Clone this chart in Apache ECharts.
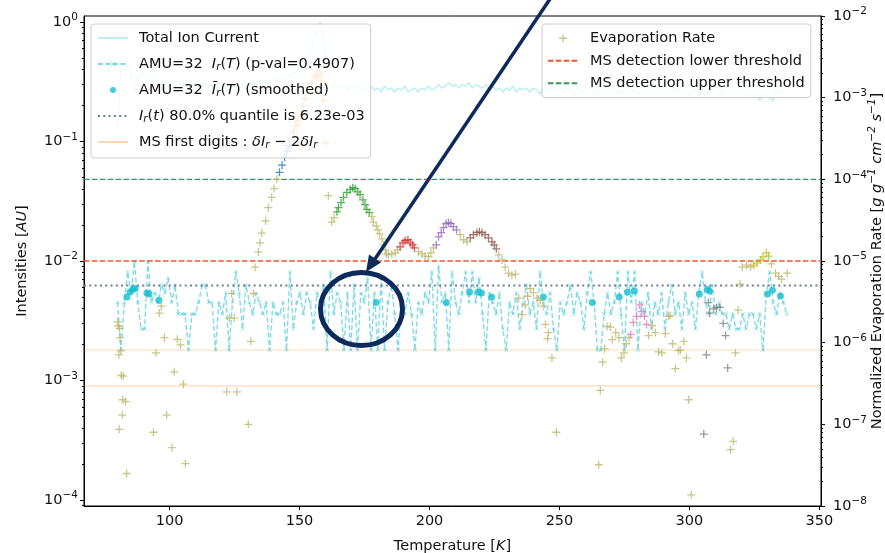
<!DOCTYPE html>
<html>
<head>
<meta charset="utf-8">
<script src="https://cdn.jsdelivr.net/npm/echarts@6/dist/echarts.min.js"></script>
<style>
  html, body { margin: 0; padding: 0; background: #ffffff; }
  #chart { width: 885px; height: 553px; }
</style>
</head>
<body>
<div id="chart"></div>
<script>
// Temperature grid of the mass-spectrometer scan [K]
const temperature = [
  80.0, 81.3, 82.6, 83.9, 85.2, 86.5, 87.8, 89.1, 90.4, 91.7,
  93.0, 94.3, 95.6, 96.9, 98.2, 99.5, 100.8, 102.1, 103.4, 104.7,
  106.0, 107.3, 108.6, 109.9, 111.2, 112.5, 113.8, 115.1, 116.4, 117.7,
  119.0, 120.3, 121.6, 122.9, 124.2, 125.5, 126.8, 128.1, 129.4, 130.7,
  132.0, 133.3, 134.6, 135.9, 137.2, 138.5, 139.8, 141.1, 142.4, 143.7,
  145.0, 146.3, 147.6, 148.9, 150.2, 151.5, 152.8, 154.1, 155.4, 156.7,
  158.0, 159.3, 160.6, 161.9, 163.2, 164.5, 165.8, 167.1, 168.4, 169.7,
  171.0, 172.3, 173.6, 174.9, 176.2, 177.5, 178.8, 180.1, 181.4, 182.7,
  184.0, 185.3, 186.6, 187.9, 189.2, 190.5, 191.8, 193.1, 194.4, 195.7,
  197.0, 198.3, 199.6, 200.9, 202.2, 203.5, 204.8, 206.1, 207.4, 208.7,
  210.0, 211.3, 212.6, 213.9, 215.2, 216.5, 217.8, 219.1, 220.4, 221.7,
  223.0, 224.3, 225.6, 226.9, 228.2, 229.5, 230.8, 232.1, 233.4, 234.7,
  236.0, 237.3, 238.6, 239.9, 241.2, 242.5, 243.8, 245.1, 246.4, 247.7,
  249.0, 250.3, 251.6, 252.9, 254.2, 255.5, 256.8, 258.1, 259.4, 260.7,
  262.0, 263.3, 264.6, 265.9, 267.2, 268.5, 269.8, 271.1, 272.4, 273.7,
  275.0, 276.3, 277.6, 278.9, 280.2, 281.5, 282.8, 284.1, 285.4, 286.7,
  288.0, 289.3, 290.6, 291.9, 293.2, 294.5, 295.8, 297.1, 298.4, 299.7,
  301.0, 302.3, 303.6, 304.9, 306.2, 307.5, 308.8, 310.1, 311.4, 312.7,
  314.0, 315.3, 316.6, 317.9, 319.2, 320.5, 321.8, 323.1, 324.4, 325.7,
  327.0, 328.3, 329.6, 330.9, 332.2, 333.5, 334.8, 336.1, 337.4
];

// Total ion current (normalised)
const totalIonCurrent = [
  0.13, 0.42, 0.40, 0.44, 0.37, 0.25, 0.33, 0.38, 0.34, 0.36,
  0.31, 0.33, 0.30, 0.32, 0.29, 0.31, 0.30, 0.28, 0.31, 0.29,
  0.30, 0.28, 0.30, 0.29, 0.31, 0.28, 0.30, 0.29, 0.30, 0.28,
  0.29, 0.31, 0.28, 0.30, 0.29, 0.30, 0.28, 0.30, 0.29, 0.31,
  0.30, 0.29, 0.31, 0.30, 0.32, 0.31, 0.33, 0.32, 0.34, 0.33,
  0.35, 0.36, 0.38, 0.37, 0.41, 0.44, 0.50, 0.58, 0.68, 0.86,
  1.00, 0.72, 0.45, 0.33, 0.29, 0.30, 0.28, 0.29, 0.27, 0.29,
  0.28, 0.30, 0.27, 0.28, 0.26, 0.29, 0.27, 0.28, 0.26, 0.29,
  0.27, 0.28, 0.26, 0.28, 0.27, 0.29, 0.26, 0.27, 0.28, 0.26,
  0.28, 0.27, 0.29, 0.27, 0.28, 0.30, 0.28, 0.29, 0.31, 0.29,
  0.30, 0.28, 0.30, 0.29, 0.31, 0.28, 0.30, 0.29, 0.28, 0.30,
  0.27, 0.29, 0.27, 0.28, 0.26, 0.28, 0.27, 0.29, 0.26, 0.28,
  0.27, 0.28, 0.26, 0.28, 0.27, 0.25, 0.28, 0.27, 0.28, 0.26,
  0.27, 0.28, 0.26, 0.28, 0.27, 0.25, 0.28, 0.27, 0.26, 0.28,
  0.27, 0.25, 0.27, 0.28, 0.26, 0.27, 0.28, 0.26, 0.27, 0.25,
  0.27, 0.28, 0.26, 0.27, 0.25, 0.27, 0.26, 0.28, 0.27, 0.25,
  0.27, 0.28, 0.26, 0.27, 0.25, 0.28, 0.26, 0.27, 0.26, 0.24,
  0.27, 0.26, 0.28, 0.26, 0.27, 0.25, 0.27, 0.26, 0.24, 0.27,
  0.26, 0.27, 0.25, 0.26, 0.27, 0.25, 0.26, 0.24, 0.26, 0.25,
  0.22, 0.26, 0.25, 0.23, 0.22, 0.26, 0.25, 0.27, 0.26
];

// AMU=32 relative intensity I_r(T)
const amu32 = [
  0.0045, 0.0018, 0.0045, 0.0081, 0.0054, 0.0099, 0.0045, 0.0027, 0.0027, 0.0099,
  0.0045, 0.0054, 0.0045, 0.0063, 0.0054, 0.0072, 0.0045, 0.0063, 0.0036, 0.0036,
  0.0036, 0.0018, 0.0036, 0.0036, 0.0045, 0.0063, 0.0063, 0.0045, 0.0045, 0.0018,
  0.0045, 0.0036, 0.0054, 0.0018, 0.0045, 0.0081, 0.0054, 0.0027, 0.0063, 0.0045,
  0.0036, 0.0054, 0.0045, 0.0036, 0.0045, 0.0018, 0.0045, 0.0036, 0.0036, 0.0045,
  0.0018, 0.0081, 0.0027, 0.0045, 0.0054, 0.0036, 0.0054, 0.0045, 0.0027, 0.0054,
  0.0045, 0.0063, 0.0018, 0.0081, 0.0036, 0.0054, 0.0045, 0.0018, 0.0054, 0.0018,
  0.0063, 0.0018, 0.0054, 0.0045, 0.0072, 0.0018, 0.0054, 0.0018, 0.0072, 0.0018,
  0.0045, 0.0063, 0.0036, 0.0018, 0.0045, 0.0036, 0.0054, 0.0036, 0.0018, 0.0045,
  0.0036, 0.0054, 0.0045, 0.0081, 0.0018, 0.0090, 0.0045, 0.0054, 0.0018, 0.0081,
  0.0045, 0.0036, 0.0054, 0.0081, 0.0045, 0.0081, 0.0045, 0.0072, 0.0036, 0.0018,
  0.0054, 0.0045, 0.0036, 0.0054, 0.0027, 0.0018, 0.0045, 0.0036, 0.0054, 0.0027,
  0.0045, 0.0063, 0.0036, 0.0045, 0.0027, 0.0081, 0.0045, 0.0036, 0.0054, 0.0027,
  0.0018, 0.0045, 0.0036, 0.0045, 0.0063, 0.0036, 0.0054, 0.0045, 0.0027, 0.0054,
  0.0081, 0.0045, 0.0018, 0.0018, 0.0036, 0.0054, 0.0036, 0.0045, 0.0081, 0.0036,
  0.0018, 0.0081, 0.0045, 0.0081, 0.0018, 0.0045, 0.0036, 0.0054, 0.0027, 0.0045,
  0.0036, 0.0054, 0.0027, 0.0045, 0.0063, 0.0036, 0.0045, 0.0027, 0.0054, 0.0036,
  0.0045, 0.0027, 0.0054, 0.0081, 0.0045, 0.0036, 0.0063, 0.0036, 0.0045, 0.0036,
  0.0036, 0.0027, 0.0036, 0.0027, 0.0027, 0.0036, 0.0027, 0.0036, 0.0036, 0.0027,
  0.0036, 0.0018, 0.0054, 0.0081, 0.0045, 0.0036, 0.0054, 0.0045, 0.0036
];

// Smoothed AMU=32 intensity
const smoothTemp = [83.6, 84.8, 85.9, 86.8, 91.3, 92.1, 95.9, 179.5, 206.5, 215.4, 218.8, 220.0,
  223.9, 243.8, 262.6, 273.0, 276.1, 278.8, 303.8, 306.9, 307.7, 330.0, 331.9, 335.0];
const smoothIr = [0.0050, 0.0055, 0.0058, 0.0059, 0.0054, 0.0053, 0.0047, 0.0045, 0.0045, 0.0055, 0.0055, 0.0054,
  0.0050, 0.0050, 0.0045, 0.0050, 0.0055, 0.0056, 0.0053, 0.0058, 0.0056, 0.0053, 0.0057, 0.0051];

// Normalised evaporation rate [g g^-1 cm^-2 s^-1]
const evapTemp = [
  80.0, 80.3, 80.5, 80.6, 80.8, 81.0, 81.2, 81.4, 81.8, 82.0, 82.2, 83.1, 83.5,
  93.8, 94.8, 96.1, 96.8, 98.0, 98.9, 101.0, 101.8, 103.0, 104.2, 105.3, 106.1,
  122.0, 123.0, 123.9, 124.9, 125.9, 130.3, 131.3, 132.3,
  132.9, 134.2, 134.8, 135.5, 137.0, 138.0, 139.3, 140.2, 141.3,
  142.3, 143.3, 144.3, 145.1, 146.0,
  146.8, 147.7, 148.6, 149.5, 150.4, 151.3, 152.2, 153.3, 154.7, 156.0, 156.7, 157.9, 158.6, 159.2, 160.2,
  161.1, 162.4, 163.3,
  164.4, 165.0, 166.0, 166.9, 168.2, 169.5, 170.5, 171.4, 172.4, 173.3, 174.4, 175.2, 175.9, 176.8,
  177.8, 178.4, 179.5, 180.1, 180.8, 181.7, 182.3, 183.0, 183.4, 184.2, 185.5, 186.8, 187.7,
  188.7, 189.8, 190.6, 191.7, 192.6, 193.5, 194.2,
  195.8, 197.1, 198.3, 199.6, 200.5, 201.5,
  202.6, 203.5, 204.5, 205.4, 206.4, 207.3, 208.2, 209.2, 210.4,
  211.8, 213.1, 214.4,
  215.7, 216.9, 218.2, 219.2, 220.2, 221.4, 222.7, 224.0, 224.9, 225.7,
  226.6, 227.9, 229.1, 230.4, 231.7, 233.0, 234.3, 235.6, 236.8, 237.7, 238.8, 240.0, 241.3, 242.6, 243.7, 244.6, 245.4, 245.8, 247.1, 248.8,
  265.1, 265.7, 266.6, 267.4, 268.3, 269.6, 270.3, 271.6, 272.9, 273.8, 274.8, 275.7, 276.7,
  277.4, 278.4, 279.7, 280.7, 281.7, 282.7, 283.5,
  284.3, 285.6, 286.9, 288.1, 289.4, 290.7, 292.0, 292.6, 293.5, 294.6, 295.8, 296.5, 297.8, 298.8, 299.7, 300.7,
  305.5, 306.5, 307.3, 307.8, 309.3, 310.4, 311.7, 313.0, 313.9, 314.7,
  315.8, 316.8, 317.7, 318.7, 319.5, 320.3, 322.0, 323.5,
  324.7, 326.0, 327.4, 328.3, 329.6, 330.5,
  331.5, 333.1, 334.3, 335.4, 337.6
];
const evapRate = [
  1.8e-6, 1.6e-6, 7.1e-7, 8.7e-8, 1.5e-6, 1.15e-6, 8.0e-7, 4.0e-7, 1.3e-7, 2.0e-7, 3.9e-7, 1.9e-7, 2.5e-8,
  8.0e-8, 7.5e-7, 2.3e-6, 2.8e-6, 1.15e-6, 1.3e-7, 5.2e-8, 4.4e-7, 1.1e-6, 9.4e-7, 3.1e-7, 3.3e-8,
  2.5e-7, 2.0e-6, 4.0e-6, 2.0e-6, 2.5e-7, 1.0e-7, 1.04e-6, 4.0e-6,
  8.4e-6, 1.29e-5, 1.67e-5, 2.2e-5, 3.1e-5, 4.5e-5, 6.0e-5, 7.7e-5, 1.0e-4,
  1.22e-4, 1.49e-4, 1.87e-4, 2.22e-4, 2.6e-4,
  2.95e-4, 3.8e-4, 4.5e-4, 5.2e-4, 6.0e-4, 7.9e-4, 9.7e-4, 1.33e-3, 1.49e-3, 1.79e-3, 1.87e-3, 1.98e-3, 1.62e-3, 9.2e-4, 2.8e-4,
  6.3e-5, 3.0e-5, 3.4e-5,
  4.0e-5, 4.5e-5, 5.2e-5, 6.0e-5, 6.9e-5, 7.5e-5, 7.9e-5, 7.7e-5, 7.0e-5, 6.5e-5, 5.6e-5, 4.9e-5, 4.3e-5, 3.9e-5,
  3.5e-5, 3.0e-5, 2.7e-5, 2.4e-5, 2.15e-5, 1.87e-5, 1.58e-5, 1.37e-5, 1.22e-5, 1.19e-5, 1.22e-5, 1.26e-5, 1.37e-5,
  1.49e-5, 1.67e-5, 1.77e-5, 1.82e-5, 1.67e-5, 1.58e-5, 1.45e-5,
  1.29e-5, 1.22e-5, 1.15e-5, 1.13e-5, 1.26e-5, 1.45e-5,
  1.58e-5, 1.98e-5, 2.22e-5, 2.56e-5, 2.87e-5, 2.95e-5, 2.87e-5, 2.63e-5, 2.41e-5,
  2.1e-5, 1.82e-5, 1.72e-5,
  1.92e-5, 2.1e-5, 2.22e-5, 2.28e-5, 2.22e-5, 2.1e-5, 1.92e-5, 1.72e-5, 1.58e-5, 1.41e-5,
  1.19e-5, 1.03e-5, 8.4e-6, 7.1e-6, 6.7e-6, 6.9e-6, 3.5e-6, 2.2e-6, 2.9e-6, 3.7e-6, 4.6e-6, 4.1e-6, 3.5e-6, 3.3e-6, 2.8e-6, 1.67e-6, 1.12e-6, 1.33e-6, 6.5e-7, 8.0e-8,
  3.2e-8, 2.6e-7, 5.8e-7, 8.4e-7, 1.58e-6, 1.55e-6, 1.09e-6, 1.33e-6, 1.15e-6, 6.5e-7, 7.5e-7, 9.7e-7, 1.15e-6,
  1.26e-6, 1.77e-6, 2.1e-6, 2.9e-6, 2.4e-6, 2.1e-6, 1.67e-6,
  1.22e-6, 1.62e-6, 1.33e-6, 7.7e-7, 7.5e-7, 1.29e-6, 2.1e-6, 2.15e-6, 9.7e-7, 4.8e-7, 8.0e-7, 8.1e-7, 1.04e-6, 6.5e-7, 2.0e-7, 1.37e-8,
  7.6e-8, 7.1e-7, 3.1e-6, 2.3e-6, 2.6e-6, 2.7e-6, 2.7e-6, 1.72e-6, 1.22e-6, 4.9e-7,
  4.9e-8, 6.2e-8, 7.5e-7, 2.5e-6, 5.2e-6, 8.4e-6, 8.9e-6, 8.5e-6,
  8.9e-6, 9.4e-6, 1.03e-5, 1.12e-5, 1.26e-5, 1.15e-5,
  9.2e-6, 7.1e-6, 6.5e-6, 6.0e-6, 7.1e-6
];

// Desorption peaks: temperature spans [K] and their colours
const peakSpans = [[142, 146.4], [146.5, 160.5], [164, 177], [188.5, 194.5], [202, 211],
  [215.5, 226], [277, 284], [305, 315], [324.5, 331]];
const peakColors = ['#1f77b4', '#ff7f0e', '#2ca02c', '#d62728', '#9467bd',
  '#8c564b', '#e377c2', '#7f7f7f', '#bcbd22'];

// Reference levels
const quantile80 = 6.23e-3;
const firstDigits = [0.0009, 0.0018];
const lowerThreshold = 1e-5;
const upperThreshold = 1e-4;

// Axis ranges and ticks
const xRange = [67.1, 350.6];
const xTicks = [100, 150, 200, 250, 300, 350];
const leftRange = [8.91e-5, 1.122];
const leftTicks = [1e-4, 1e-3, 1e-2, 1e-1, 1];
const rightRange = [1e-8, 1e-2];
const rightTicks = [1e-8, 1e-7, 1e-6, 1e-5, 1e-4, 1e-3, 1e-2];

const FONT = 'DejaVu Sans';
const FS = 14.5;
const INK = '#111';
const NAVY = '#0c2a5b';
const PLUS = 'path://M4.2,0H5.8V4.2H10V5.8H5.8V10H4.2V5.8H0V4.2H4.2Z';
const CROSS = 'path://M0,1L1,0L5,4L9,0L10,1L6,5L10,9L9,10L5,6L1,10L0,9L4,5Z';

function pairs(xs, ys) { return xs.map((x, k) => [x, ys[k]]); }

// a horizontal level drawn across the full temperature range
function level(v) { return [[xRange[0], v], [xRange[1], v]]; }

// log minor ticks at 2..9 x 10^n inside [lo, hi]
function minorLogTicks(lo, hi) {
  const out = [];
  for (let e = Math.floor(Math.log10(lo)); e < Math.ceil(Math.log10(hi)); e++) {
    for (let m = 2; m <= 9; m++) {
      const v = m * Math.pow(10, e);
      if (v >= lo && v <= hi) out.push(v);
    }
  }
  return out;
}

function powLabel(v) {
  const e = Math.round(Math.log10(v));
  return '{b|10}{s|' + (e < 0 ? '\u2212' + (-e) : e) + '}';
}

function peakColor(t) {
  for (let k = 0; k < peakSpans.length; k++) {
    if (t >= peakSpans[k][0] && t <= peakSpans[k][1]) return peakColors[k];
  }
  return null;
}

const evapData = evapTemp.map((t, k) => {
  const c = peakColor(t);
  return c ? { value: [t, evapRate[k]], itemStyle: { color: c } } : { value: [t, evapRate[k]] };
});

const powRich = {
  b: { fontFamily: FONT, fontSize: FS, lineHeight: 20, color: INK },
  s: { fontFamily: FONT, fontSize: 10.5, lineHeight: 10, verticalAlign: 'top', color: INK }
};

const legendRich = {
  i: { fontFamily: FONT, fontSize: FS, fontStyle: 'italic', lineHeight: 18, color: INK },
  s: { fontFamily: FONT, fontSize: 10.5, fontStyle: 'italic', lineHeight: 10, verticalAlign: 'bottom', color: INK }
};

const legendText = {
  'Total Ion Current': 'Total Ion Current',
  'AMU=32 Ir(T)': 'AMU=32  {i|I}{s|r}({i|T}) (p-val=0.4907)',
  'AMU=32 smoothed': 'AMU=32  {i|\u0128}{s|r}({i|T}) (smoothed)',
  'Ir quantile': '{i|I}{s|r}({i|t}) 80.0% quantile is 6.23e-03',
  'MS first digits': 'MS first digits : {i|\u03b4I}{s|r} \u2212 2{i|\u03b4I}{s|r}',
  'Evaporation Rate': 'Evaporation Rate',
  'MS detection lower threshold': 'MS detection lower threshold',
  'MS detection upper threshold': 'MS detection upper threshold'
};

// legend entries that show only a line (no marker)
const lineOnly = name => ({ name: name, itemStyle: { opacity: 0 } });

const chart = echarts.init(document.getElementById('chart'), null, { renderer: 'canvas' });

const baseAxis = {
  axisLine: { show: true, onZero: false, lineStyle: { color: '#000', width: 1 } },
  splitLine: { show: false },
  nameMoveOverlap: false
};

const nameRich = { i: { fontFamily: FONT, fontSize: FS, fontStyle: 'italic', color: INK } };

const digitsStyle = { color: 'rgba(255,127,14,0.3)', width: 1.2 };

chart.setOption({
  animation: false,
  backgroundColor: '#ffffff',
  textStyle: { fontFamily: FONT },
  grid: { left: 84, right: 64, top: 16, bottom: 47, containLabel: false, outerBoundsMode: 'none',
    show: true, borderColor: '#000', borderWidth: 1 },
  xAxis: [{
    ...baseAxis,
    type: 'value', min: xRange[0], max: xRange[1],
    axisTick: { show: true, length: 4, lineStyle: { color: '#000' }, customValues: xTicks },
    axisLabel: { customValues: xTicks, fontFamily: FONT, fontSize: FS, color: INK, margin: 8 },
    name: 'Temperature [{i|K}]', nameLocation: 'middle', nameGap: 33,
    nameTextStyle: { fontFamily: FONT, fontSize: FS, color: INK, rich: nameRich }
  }],
  yAxis: [{
    ...baseAxis,
    type: 'log', logBase: 10, position: 'left', min: leftRange[0], max: leftRange[1],
    axisTick: { show: true, length: 4, lineStyle: { color: '#000' }, customValues: leftTicks },
    axisLabel: { customValues: leftTicks, formatter: powLabel, rich: powRich, margin: 6 },
    name: 'Intensities [{i|AU}]', nameLocation: 'middle', nameRotate: 90, nameGap: 54,
    nameTextStyle: { fontFamily: FONT, fontSize: FS, color: INK, rich: nameRich }
  }, {
    ...baseAxis,
    type: 'log', logBase: 10, position: 'right', min: rightRange[0], max: rightRange[1],
    axisTick: { show: true, length: 4, lineStyle: { color: '#000' }, customValues: rightTicks },
    axisLabel: { customValues: rightTicks, formatter: powLabel, rich: powRich, margin: 12 },
    name: 'Normalized Evaporation Rate [{i|g g}{s|\u22121} {i|cm}{s|\u22122} {i|s}{s|\u22121}]',
    nameLocation: 'middle', nameRotate: 90, nameGap: 46,
    nameTextStyle: { fontFamily: FONT, fontSize: FS, color: INK,
      rich: {
        i: { fontFamily: FONT, fontSize: FS, fontStyle: 'italic', lineHeight: 20, color: INK },
        s: { fontFamily: FONT, fontSize: 10.5, fontStyle: 'italic', lineHeight: 10, verticalAlign: 'top', color: INK }
      } }
  }, {
    type: 'log', logBase: 10, position: 'left', min: leftRange[0], max: leftRange[1],
    axisLine: { show: false }, splitLine: { show: false }, axisLabel: { show: false },
    axisTick: { show: true, length: 2, lineStyle: { color: '#000' }, customValues: minorLogTicks(leftRange[0], leftRange[1]) }
  }, {
    type: 'log', logBase: 10, position: 'right', min: rightRange[0], max: rightRange[1],
    axisLine: { show: false }, splitLine: { show: false }, axisLabel: { show: false },
    axisTick: { show: true, length: 2, lineStyle: { color: '#000' }, customValues: minorLogTicks(rightRange[0], rightRange[1]) }
  }],
  legend: [{
    data: [lineOnly('Total Ion Current'), 'AMU=32 Ir(T)', 'AMU=32 smoothed', lineOnly('Ir quantile'), lineOnly('MS first digits')],
    orient: 'vertical', left: 91, top: 24, z: 20,
    padding: [5, 6, 7, 6], itemWidth: 30, itemHeight: 6, itemGap: 8,
    selectedMode: false,
    backgroundColor: 'rgba(255,255,255,0.8)', borderColor: '#cccccc', borderWidth: 1, borderRadius: 3,
    formatter: name => legendText[name],
    textStyle: { fontFamily: FONT, fontSize: FS, lineHeight: 18, color: INK, padding: [0, 0, 0, 6], rich: legendRich }
  }, {
    data: ['Evaporation Rate', lineOnly('MS detection lower threshold'), lineOnly('MS detection upper threshold')],
    orient: 'vertical', left: 542, top: 24, z: 20,
    padding: [6, 6, 6, 5], itemWidth: 30, itemHeight: 8, itemGap: 6,
    selectedMode: false,
    backgroundColor: 'rgba(255,255,255,0.8)', borderColor: '#cccccc', borderWidth: 1, borderRadius: 3,
    formatter: name => legendText[name],
    textStyle: { fontFamily: FONT, fontSize: FS, lineHeight: 16.5, color: INK, padding: [0, 0, 0, 7] }
  }],
  series: [{
    name: 'Total Ion Current', type: 'line', xAxisIndex: 0, yAxisIndex: 0, z: 2,
    data: pairs(temperature, totalIonCurrent), symbol: 'none',
    lineStyle: { color: 'rgba(23,190,207,0.28)', width: 1.5 },
    itemStyle: { color: 'rgba(23,190,207,0.28)' }
  }, {
    name: 'AMU=32 Ir(T)', type: 'line', xAxisIndex: 0, yAxisIndex: 0, z: 3,
    data: pairs(temperature, amu32), symbol: CROSS, symbolSize: 4, showAllSymbol: true,
    lineStyle: { color: 'rgba(23,190,207,0.55)', width: 1.4, type: [5, 2.5] },
    itemStyle: { color: 'rgba(23,190,207,0.55)' }
  }, {
    name: 'AMU=32 smoothed', type: 'scatter', xAxisIndex: 0, yAxisIndex: 0, z: 4,
    data: pairs(smoothTemp, smoothIr), symbol: 'circle', symbolSize: 7,
    itemStyle: { color: '#17becf' }
  }, {
    name: 'Ir quantile', type: 'line', xAxisIndex: 0, yAxisIndex: 0, z: 4,
    data: level(quantile80), symbol: 'none',
    lineStyle: { color: '#6f7d96', width: 2, type: [2, 3.3] },
    itemStyle: { color: '#6f7d96' }
  }, {
    name: 'MS first digits', type: 'line', xAxisIndex: 0, yAxisIndex: 0, z: 2,
    data: level(firstDigits[0]), symbol: 'none',
    lineStyle: digitsStyle, itemStyle: { color: digitsStyle.color }
  }, {
    name: 'MS first digits', type: 'line', xAxisIndex: 0, yAxisIndex: 0, z: 2,
    data: level(firstDigits[1]), symbol: 'none',
    lineStyle: digitsStyle, itemStyle: { color: digitsStyle.color }
  }, {
    name: 'MS detection lower threshold', type: 'line', xAxisIndex: 0, yAxisIndex: 1, z: 5,
    data: level(lowerThreshold), symbol: 'none',
    lineStyle: { color: '#f2542d', width: 1.3, type: [5.5, 2.4] },
    itemStyle: { color: '#f2542d' }
  }, {
    name: 'MS detection upper threshold', type: 'line', xAxisIndex: 0, yAxisIndex: 1, z: 5,
    data: level(upperThreshold), symbol: 'none',
    lineStyle: { color: '#34985e', width: 1.3, type: [5.5, 2.4] },
    itemStyle: { color: '#34985e' }
  }, {
    name: 'Evaporation Rate', type: 'scatter', xAxisIndex: 0, yAxisIndex: 1, z: 6,
    data: evapData, symbol: PLUS, symbolSize: 8, symbolKeepAspect: true,
    itemStyle: { color: '#bdb76b' }
  }],
  graphic: [{
    type: 'line', z: 100, silent: true,
    shape: { x1: 552, y1: -4, x2: 375, y2: 259 },
    style: { stroke: NAVY, lineWidth: 3.5 }
  }, {
    type: 'polygon', z: 100, silent: true,
    shape: { points: [[366, 272], [381, 262.5], [369, 254.5]] },
    style: { fill: NAVY }
  }, {
    type: 'ellipse', z: 100, silent: true,
    shape: { cx: 361.5, cy: 309, rx: 41, ry: 36.5 },
    style: { fill: 'transparent', stroke: NAVY, lineWidth: 5 }
  }]
});
</script>
</body>
</html>
